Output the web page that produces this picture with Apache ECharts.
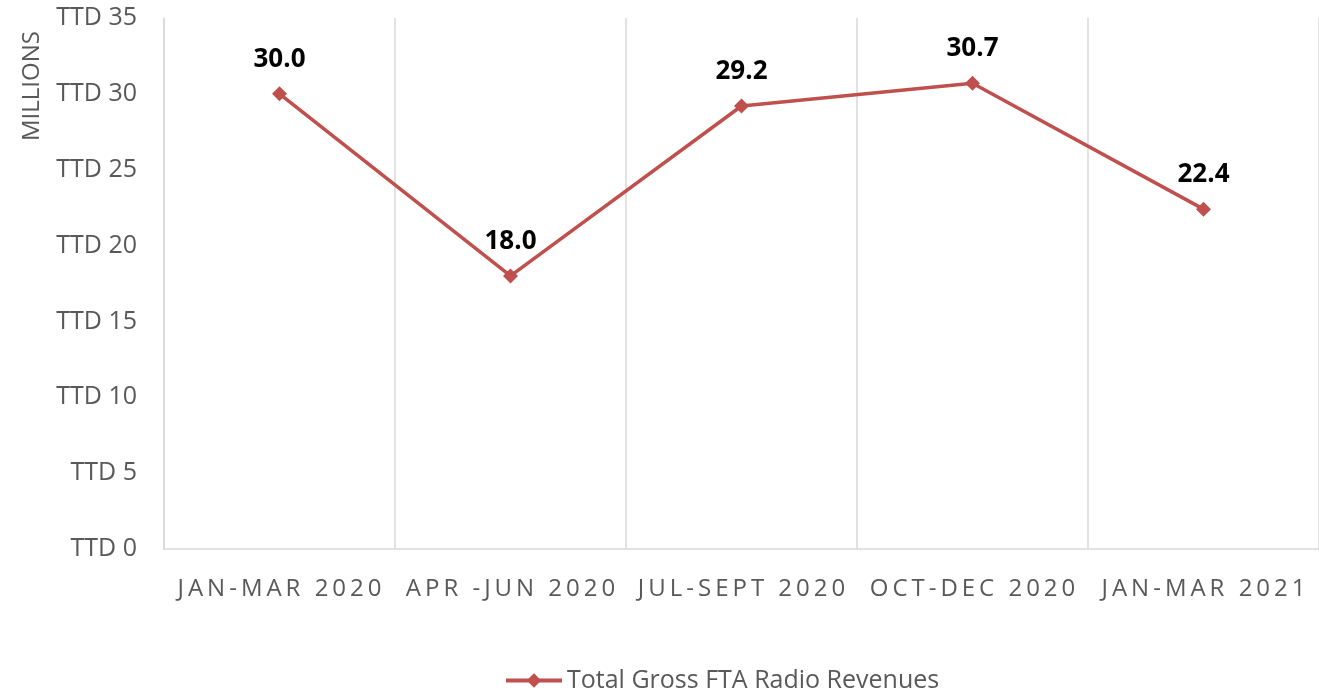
<!DOCTYPE html>
<html>
<head>
<meta charset="utf-8">
<script src="https://cdn.jsdelivr.net/npm/echarts@6/dist/echarts.min.js"></script>
<style>
  html, body { margin: 0; padding: 0; background: #fff; }
  #chart { width: 1319px; height: 694px; }
</style>
</head>
<body>
<div id="chart"></div>
<script>
// Quarterly periods on the category axis
const quarters = ['JAN-MAR 2020', 'APR -JUN 2020', 'JUL-SEPT 2020', 'OCT-DEC 2020', 'JAN-MAR 2021'];
// Total Gross FTA Radio Revenues, TTD millions
const revenues = [30.0, 18.0, 29.2, 30.7, 22.4];
const seriesName = 'Total Gross FTA Radio Revenues';
const yTickStep = 5;
const yMax = 35;

const lineColor = '#C0504D';
const textGrey = '#595959';
const font = 'Open Sans';

// spread category letters with thin spaces for tracking
const spaced = s => s.split('').join('\u2009');

const chart = echarts.init(document.getElementById('chart'));
chart.setOption({
  animation: false,
  textStyle: { fontFamily: font },
  grid: { left: 164, right: -4, top: 18, bottom: 145 },
  xAxis: {
    type: 'category',
    data: quarters,
    boundaryGap: true,
    axisLine: { show: true, lineStyle: { color: '#D9D9D9', width: 1.5 } },
    axisTick: { show: false },
    splitLine: { show: true, interval: 0, lineStyle: { color: '#D9D9D9', width: 1.5 } },
    axisLabel: {
      interval: 0,
      color: textGrey, fontSize: 24, margin: 28,
      formatter: v => spaced(v)
    }
  },
  yAxis: {
    type: 'value',
    min: 0, max: yMax, interval: yTickStep,
    axisLine: { show: true, lineStyle: { color: '#D9D9D9', width: 1.5 } },
    axisTick: { show: false },
    splitLine: { show: false },
    axisLabel: {
      color: textGrey, fontSize: 25, margin: 27,
      formatter: v => 'TTD ' + v
    }
  },
  legend: {
    bottom: -4,
    left: 499,
    itemWidth: 56, itemHeight: 18,
    itemGap: 6,
    lineStyle: { width: 4 },
    textStyle: { color: textGrey, fontSize: 25, fontFamily: font },
    data: [seriesName]
  },
  graphic: [{
    type: 'text',
    x: 32, y: 86,
    rotation: Math.PI / 2,
    style: {
      text: 'MILLIONS', fill: textGrey, fontSize: 24, fontFamily: font,
      align: 'center', verticalAlign: 'middle'
    }
  }],
  series: [{
    name: seriesName,
    type: 'line',
    data: revenues,
    symbol: 'diamond',
    symbolSize: 15,
    itemStyle: { color: lineColor },
    lineStyle: { color: lineColor, width: 3.5 },
    label: {
      show: true, position: 'top', distance: 14,
      color: '#000', fontWeight: 'bold', fontSize: 26, fontFamily: font,
      formatter: p => p.value.toFixed(1)
    }
  }]
});
</script>
</body>
</html>
